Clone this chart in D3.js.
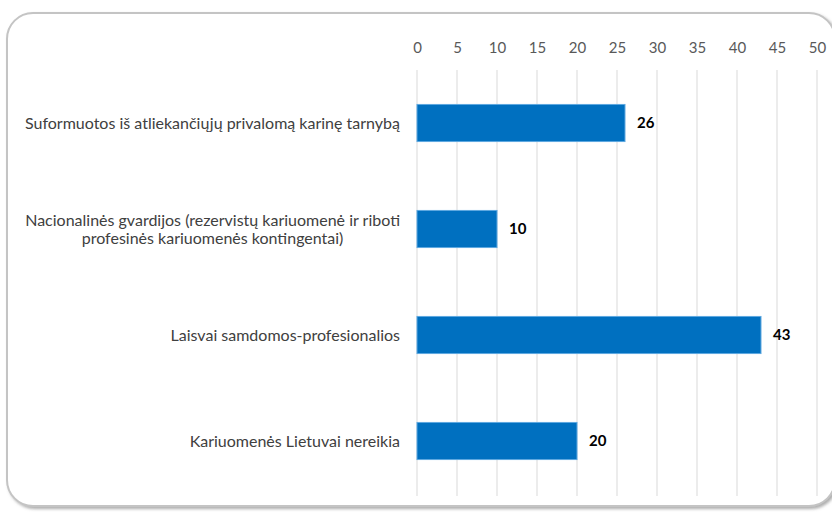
<!DOCTYPE html>
<html>
<head>
<meta charset="utf-8">
<script src="https://cdn.jsdelivr.net/npm/d3@7"></script>
<style>
  body { margin: 0; background: #fff; }
  svg { display: block; font-family: Lato, "Open Sans", sans-serif; }
</style>
</head>
<body>
<svg id="chart" width="832" height="512"></svg>
<script>
// Categories, top to bottom; each entry is a list of label lines
const categories = [
    ['Suformuotos iš atliekančiųjų privalomą karinę tarnybą'],
    ['Nacionalinės gvardijos (rezervistų kariuomenė ir riboti', 'profesinės kariuomenės kontingentai)'],
    ['Laisvai samdomos-profesionalios'],
    ['Kariuomenės Lietuvai nereikia']
];
const values = [26, 10, 43, 20];
const ticks = [0, 5, 10, 15, 20, 25, 30, 35, 40, 45, 50];

const svg = d3.select('#chart');

// rounded frame with a soft shadow
const defs = svg.append('defs');
const f = defs.append('filter').attr('id', 'shadow')
    .attr('x', '-5%').attr('y', '-5%').attr('width', '110%').attr('height', '110%');
f.append('feDropShadow').attr('dx', 2).attr('dy', 2).attr('stdDeviation', 1.5)
    .attr('flood-color', '#777').attr('flood-opacity', 0.6);

svg.append('rect')
    .attr('x', 7).attr('y', 13)
    .attr('width', 828).attr('height', 493)
    .attr('rx', 26)
    .attr('fill', '#fff')
    .attr('stroke', '#c4c4c4')
    .attr('stroke-width', 2)
    .attr('filter', 'url(#shadow)');

const x = d3.scaleLinear().domain([0, 50]).range([417, 817]);
const y = d3.scaleBand()
    .domain(d3.range(categories.length))
    .range([70, 494])
    .paddingInner(0.65)
    .paddingOuter(0.325);

// vertical gridlines
svg.append('g')
  .selectAll('line')
  .data(ticks)
  .enter().append('line')
    .attr('x1', (d) => x(d)).attr('x2', (d) => x(d))
    .attr('y1', 70).attr('y2', 496)
    .attr('stroke', '#d9d9d9')
    .attr('stroke-width', 1);

// axis labels on top
const axis = svg.append('g')
    .attr('transform', 'translate(0,53)')
    .call(d3.axisTop(x).tickValues(ticks).tickSize(0).tickPadding(0));
axis.select('.domain').remove();
axis.selectAll('text')
    .attr('fill', '#595959')
    .attr('font-size', 15)
    .attr('font-family', 'Lato, "Open Sans", sans-serif');

// bars
svg.append('g')
  .selectAll('rect')
  .data(values)
  .enter().append('rect')
    .attr('x', x(0))
    .attr('y', (d, i) => y(i))
    .attr('width', (d) => x(d) - x(0))
    .attr('height', y.bandwidth())
    .attr('fill', '#0070c0')
    .attr('stroke', '#5ea8e0')
    .attr('stroke-width', 1);

// value labels
svg.append('g')
  .selectAll('text')
  .data(values)
  .enter().append('text')
    .attr('x', (d) => x(d) + 12)
    .attr('y', (d, i) => y(i) + y.bandwidth() / 2)
    .attr('dy', '0.35em')
    .attr('font-size', 15)
    .attr('font-weight', 'bold')
    .attr('fill', '#000')
    .text((d) => d);

// category labels: right edge at 400, multi-line labels centered within their block
const labelRight = 400, lineH = 18;
const lab = svg.append('g');
categories.forEach((lines, i) => {
    const cy = y(i) + y.bandwidth() / 2;
    const g = lab.append('g');
    const texts = lines.map((s, k) => g.append('text')
        .attr('y', cy + (k - (lines.length - 1) / 2) * lineH)
        .attr('dy', '0.35em')
        .attr('font-size', 16)
        .attr('fill', '#404040')
        .text(s));
    const maxW = d3.max(texts, (t) => t.node().getComputedTextLength());
    texts.forEach((t) => t.attr('x', labelRight - maxW / 2).attr('text-anchor', 'middle'));
});
</script>
</body>
</html>
